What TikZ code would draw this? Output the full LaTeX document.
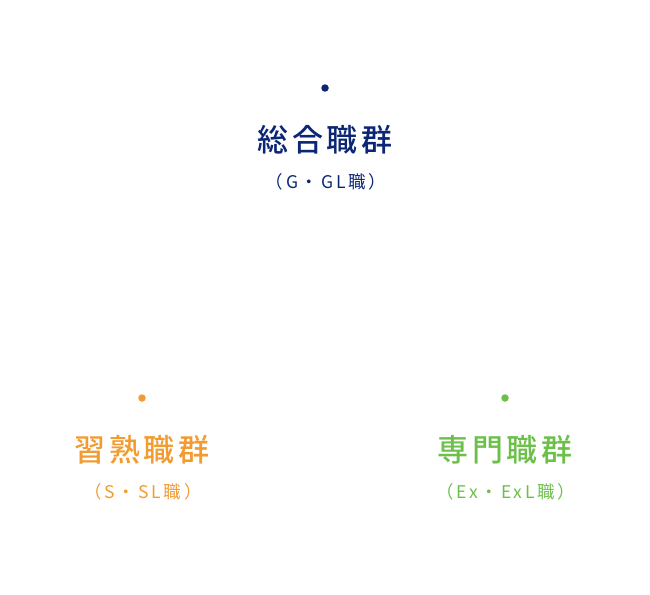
\documentclass[tikz,border=0pt]{standalone}
\usepackage{fontspec}
\newfontfamily\cjk{Noto Sans CJK JP}[LetterSpace=16]
\newfontfamily\cjkspaced{Noto Sans CJK JP Medium}[LetterSpace=12]
\usetikzlibrary{positioning}
\definecolor{navy}{HTML}{0B2675}
\definecolor{orng}{HTML}{F29B30}
\definecolor{grn}{HTML}{6CC04A}
\tikzset{
  dot/.style={circle,fill=#1,inner sep=0pt,minimum size=7.5pt},
  title/.style={text=#1,font=\cjkspaced\fontsize{31}{33}\selectfont,inner sep=0pt},
  sub/.style={text=#1,font=\cjk\fontsize{17.5}{19}\selectfont,inner sep=0pt}
}
\begin{document}
\begin{tikzpicture}[x=1pt,y=-1pt]
  \useasboundingbox (0,0) rectangle (650,594);
  % top group
  \node[dot=navy] (gdot) at (325,88) {};
  \node[title=navy] (gtitle) at (325,140) {総合職群};
  \node[sub=navy] (gsub) at (326,182) {（G・GL職）};
  % left group
  \node[dot=orng] (sdot) at (142,398) {};
  \node[title=orng] (stitle) at (142,450) {習熟職群};
  \node[sub=orng] (ssub) at (143,492) {（S・SL職）};
  % right group
  \node[dot=grn] (edot) at (505,398) {};
  \node[title=grn] (etitle) at (505,450) {専門職群};
  \node[sub=grn] (esub) at (506,492) {（Ex・ExL職）};
\end{tikzpicture}
\end{document}
